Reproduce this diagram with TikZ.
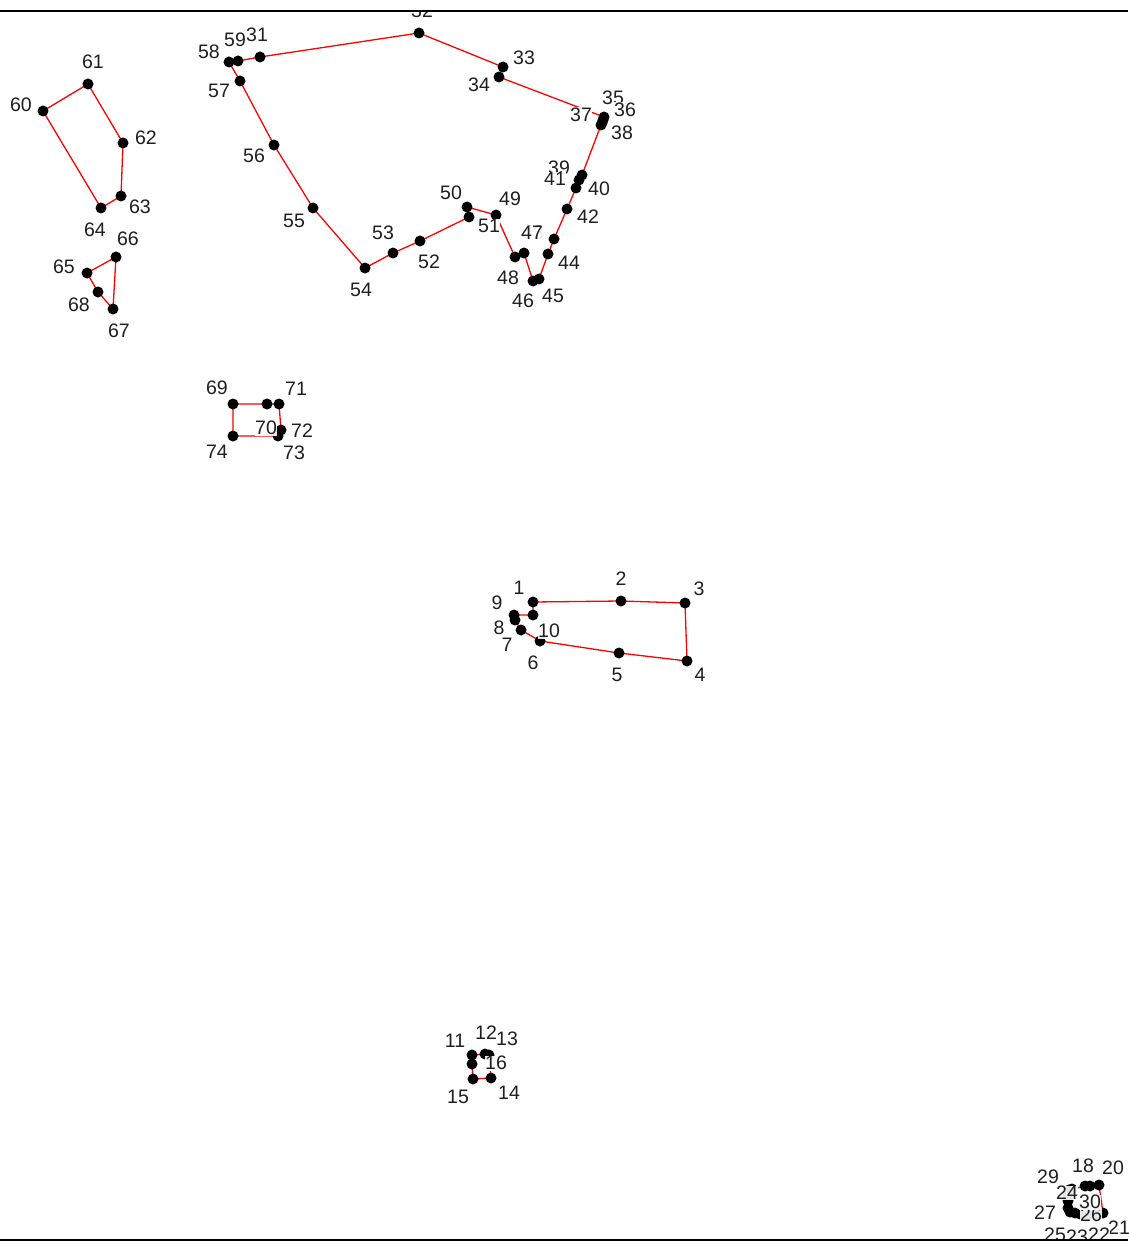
\documentclass[tikz,border=0pt]{standalone}
\usepackage{fontspec}
\setmainfont{Liberation Sans}
\begin{document}
\begin{tikzpicture}[x=1pt,y=-1pt,
  edge/.style={red,line width=1.3pt},
  dot/.style={circle,fill=black,inner sep=0pt,minimum size=11pt},
  lbl/.style={font=\fontsize{19.5}{20}\selectfont,text=black!88,inner sep=0.6pt,fill=white,fill opacity=0.9,text opacity=1},
  border/.style={black,line width=1.6pt}]
\useasboundingbox (0,0) rectangle (1128,1241);
\begin{scope}
\clip (0,11) rectangle (1128,1240);
% points
\foreach \n/\x/\y in {
 1/533/602, 2/621/601, 3/685/603, 4/687/661, 5/619/653, 6/540/641, 7/521/630, 8/515/620, 9/514/615, 10/533/615,
 11/472/1055, 12/485/1054, 13/489/1055, 14/491/1078, 15/473/1079, 16/472/1064,
 17/1069/1190, 18/1085/1186, 19/1090/1186, 20/1099/1185, 21/1103/1213, 22/1097/1215, 23/1088/1215, 24/1080/1214,
 25/1075/1213, 26/1070/1212, 27/1068/1208, 28/1068/1201, 29/1068/1195, 30/1072/1189,
 31/260/57, 32/419/33, 33/503/67, 34/499/77, 35/604/117, 36/603/120, 37/602/123, 38/601/125,
 39/582/175, 40/579/180, 41/576/188, 42/567/209, 43/554/239, 44/548/254, 45/539/279, 46/533/281,
 47/524/253, 48/515/257, 49/496/215, 50/467/207, 51/469/217, 52/420/241, 53/393/253, 54/365/268,
 55/313/208, 56/274/145, 57/240/81, 58/229/62, 59/238/61,
 60/43/111, 61/88/84, 62/123/143, 63/121/196, 64/101/208,
 65/87/273, 66/116/257, 67/113/309, 68/98/292,
 69/233/404, 70/267/404, 71/279/404, 72/281/430, 73/278/436, 74/233/436}
 {\coordinate (p\n) at (\x,\y);}
% connectors
\draw[edge] (p1)--(p2)--(p3)--(p4)--(p5)--(p6)--(p7)--(p8)--(p9)--(p10)--cycle;
\draw[edge] (p11)--(p12)--(p13)--(p14)--(p15)--(p16)--cycle;
\draw[edge] (p17)--(p18)--(p19)--(p20)--(p21)--(p22)--(p23)--(p24)--(p25)--(p26)--(p27)--(p28)--(p29)--(p30)--cycle;
\draw[edge] (p31)--(p32)--(p33)--(p34)--(p35)--(p36)--(p37)--(p38)--(p39)--(p40)--(p41)--(p42)--(p43)--(p44)--(p45)--(p46)--(p47)--(p48)--(p49)--(p50)--(p51)--(p52)--(p53)--(p54)--(p55)--(p56)--(p57)--(p58)--(p59)--cycle;
\draw[edge] (p60)--(p61)--(p62)--(p63)--(p64)--cycle;
\draw[edge] (p65)--(p66)--(p67)--(p68)--cycle;
\draw[edge] (p69)--(p70)--(p71)--(p72)--(p73)--(p74)--cycle;
% dots
\foreach \n in {1,...,74} {\node[dot] (d\n) at (p\n) {};}
% labels
\foreach \n/\x/\y in {
 1/519/588, 2/621/579, 3/699/589, 4/700/675, 5/617/675, 6/533/663, 7/507/645, 8/499/628, 9/497/603, 10/549/631,
 11/455/1041, 12/486/1033, 13/507/1039, 14/509/1093, 15/458/1097, 16/496/1063,
 18/1083/1166, 20/1113/1168, 21/1119/1228, 22/1099/1235, 23/1077/1237, 24/1067/1193, 25/1055/1235,
 26/1091/1215, 27/1045/1213, 29/1048/1177, 30/1090/1202,
 31/257/35, 32/422/11, 33/524/58, 34/479/85, 35/613/98, 36/625/110, 37/581/115, 38/622/133,
 39/559/168, 40/599/189, 41/555/179, 42/588/217, 43/533/233, 44/569/263, 45/553/296, 46/523/301,
 47/532/233, 48/508/278, 49/510/199, 50/451/193, 51/489/226, 52/429/262, 53/383/233, 54/361/290,
 55/294/221, 56/254/156, 57/219/91, 58/209/52, 59/235/40,
 60/21/105, 61/93/62, 62/146/138, 63/140/207, 64/95/230,
 65/64/267, 66/128/239, 67/119/331, 68/79/305,
 69/217/388, 70/266/428, 71/296/389, 72/302/431, 73/294/453, 74/217/452}
 {\node[lbl] (l\n) at (\x,\y) {\n};}
\end{scope}
\coordinate (tl) at (0,11); \coordinate (tr) at (1128,11);
\coordinate (bl) at (0,1240); \coordinate (br) at (1128,1240);
\draw[border] (tl)--(tr);
\draw[border] (bl)--(br);
\end{tikzpicture}
\end{document}
